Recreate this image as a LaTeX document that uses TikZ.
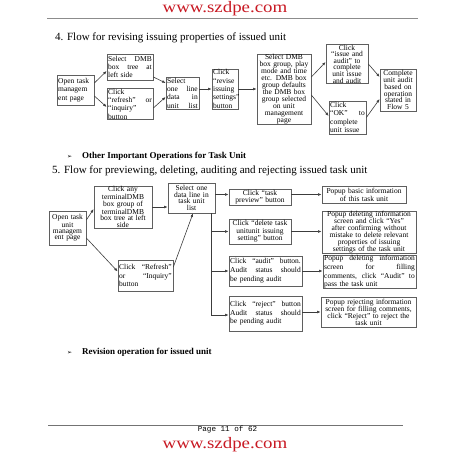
\documentclass[tikz,border=0pt]{standalone}
\usepackage{fontspec}
\usepackage{graphicx}
\setmainfont{Liberation Serif}
\newfontfamily\symfont{DejaVu Sans}
\newfontfamily\pgmono{Liberation Mono}
\usetikzlibrary{arrows.meta,calc}
\definecolor{urlred}{RGB}{200,25,35}
\definecolor{boxgray}{RGB}{95,95,95}
\definecolor{linegray}{RGB}{60,60,60}
\newcommand\J[1]{{\spaceskip=0.25em plus 1fil\xspaceskip=0.25em plus 1fil\makebox[\hsize][s]{#1}}}
\tikzset{
  box/.style={draw=boxgray, line width=0.7pt, inner xsep=1.2pt, inner ysep=0.3pt, align=center},
  sz/.code 2 args={\pgfmathsetmacro\tw{#1-2.4}\edef\tmp{\noexpand\tikzset{minimum width=#1pt,minimum height=#2pt,text width=\tw pt}}\tmp},
  ls/.style={font=\fontsize{7.5}{#1}\selectfont},
  lft/.style={align=left},
  conn/.style={draw=linegray, line width=0.6pt, -{Latex[length=3.6pt,width=2.8pt]}},
  url/.style={anchor=base, inner sep=0, text=urlred, font=\fontsize{16}{16}\selectfont},
  title/.style={anchor=base west, inner sep=0, font=\fontsize{11}{11}\selectfont},
  bul/.style={anchor=base west, inner sep=0, font=\symfont\fontsize{6}{6}\selectfont},
  bultext/.style={anchor=base west, inner sep=0, font=\bfseries\fontsize{9}{9}\selectfont},
}
\begin{document}
\begin{tikzpicture}[x=1pt,y=-1pt]
\useasboundingbox (0,0) rectangle (452,452);
% header
\node[url] (hdr) at (225,13) {\scalebox{1.18}[1]{www.szdpe.com}};
\draw[line width=1.3pt, draw=black!45] (47,18.5) -- (418,18.5);
\node[title] (t4) at (55,40.5) {4. Flow for revising issuing properties of issued unit};

% flow 4
\node[box, lft, sz={37}{30}, ls=8.5] (A) at (75.5,90) {Open task\\managem\\ent page};
\node[box, lft, sz={46}{26}, ls=8.4] (B) at (130,67) {\J{Select DMB}\\\J{box tree at}\\left side};
\node[box, lft, sz={46}{30}, ls=8.3] (C) at (130,104) {Click\\\J{“refresh” or}\\“inquiry”\\button};
\node[box, lft, sz={33}{32}, ls=8.3] (D) at (182.5,93) {Select\\\J{one line}\\\J{data in}\\\J{unit list}};
\node[box, lft, sz={26}{40}, ls=8.3, inner xsep=0.6pt] (E) at (225,89) {Click\\“revise\\issuing\\settings”\\button};
\node[box, sz={54}{69}, ls=7.0] (F) at (284,89.5) {Select DMB\\box group, play\\mode and time\\etc. DMB box\\group defaults\\the DMB box\\group selected\\on unit\\management\\page};
\node[box, sz={42}{38}, ls=6.6] (G) at (347,64) {Click\\“issue and\\audit” to\\complete\\unit issue\\and audit};
\node[box, lft, sz={37}{33}, ls=8.3] (H) at (347.5,117.5) {Click\\\J{“OK” to}\\complete\\unit issue};
\node[box, sz={36}{42}, ls=6.9] (I) at (398,90) {Complete\\unit audit\\based on\\operation\\stated in\\Flow 5};

\draw[conn] ([yshift=7pt]A.east) -- ([yshift=-4pt]B.west);
\draw[conn] ([yshift=-6pt]A.east) -- ([yshift=-3pt]C.west);
\draw[conn] ([yshift=-10pt]B.east) -- ([yshift=10pt]D.west);
\draw[conn] ([yshift=-4pt]C.east) -- ([yshift=-4pt]D.west);
\draw[conn] (E.west -| D.east) -- (E.west);
\draw[conn] (E.east) -- (E.east -| F.west);
\draw[conn] ([yshift=12.5pt]F.east) -- ([yshift=2pt]G.west);
\draw[conn] ([yshift=-5.5pt]F.east) -- ([yshift=1.5pt]H.west);
\draw[conn] (G.east) -- ([yshift=13pt]I.west);
\draw[conn] (H.east) -- ([yshift=-9pt]I.west);

% bullet 1
\node[bul] (b1) at (67,158) {➢};
\node[bultext] (b1t) at (82,158) {Other Important Operations for Task Unit};
\node[title] (t5) at (52,173.5) {5. Flow for previewing, deleting, auditing and rejecting issued task unit};

% flow 5
\node[box, sz={37}{34}, ls=6.3] (P) at (67.5,228) {Open task\\unit\\managem\\ent page};
\node[box, sz={58}{42}, ls=6.6] (Q) at (123,207) {Click any\\terminalDMB\\box group of\\terminalDMB\\box tree at left\\side};
\node[box, lft, sz={55}{31}, ls=8.7] (R) at (145.5,275.5) {\J{Click “Refresh”}\\\J{or “Inquiry”}\\button};
\node[box, sz={47}{30}, ls=6.7] (S) at (191.5,198) {Select one\\data line in\\task unit\\list};
\node[box, sz={62}{16}, ls=6.7] (T1) at (260,197) {Click “task\\preview” button};
\node[box, sz={62}{25}, ls=7.3] (T2) at (260,231.5) {Click “delete task\\unitunit issuing\\setting” button};
\node[box, lft, sz={73}{30}, ls=9] (T3) at (265.5,271) {\J{Click “audit” button.}\\\J{Audit status should}\\be pending audit};
\node[box, lft, sz={73}{35}, ls=8.7] (T4) at (265.5,313.5) {\J{Click “reject” button}\\\J{Audit status should}\\be pending audit};
\node[box, sz={84}{17}, ls=6.7] (U1) at (364,194.5) {Popup basic information\\of this task unit};
\node[box, sz={94}{40}, ls=6.9] (U2) at (369,232) {Popup deleting information\\screen and click “Yes”\\after confirming without\\mistake to delete relevant\\properties of issuing\\settings of the task unit};
\node[box, lft, sz={93}{32}, ls=8.6] (U3) at (369.5,272) {\J{Popup deleting information}\\\J{screen for filling}\\\J{comments, click “Audit” to}\\pass the task unit};
\node[box, sz={95}{30}, ls=7] (U4) at (368.5,312) {Popup rejecting information\\screen for filling comments,\\click “Reject” to reject the\\task unit};

\draw[conn] ([yshift=8pt]P.east) -- ([yshift=-2pt]Q.west);
\draw[conn] ([yshift=-10pt]P.east) -- ([yshift=4pt]R.west);
\draw[conn] (Q.east) -- (Q.east -| S.west);
\draw[conn] ([yshift=8.5pt]R.east) -- ([xshift=1.5pt]S.south);
\draw[conn] (S.east |- U1.west) -- (T1.west |- U1.west);
\coordinate (tk) at ([xshift=-4pt]S.south east);
\draw[conn] (tk) |- ([yshift=-1.5pt]T4.west);
\draw[conn] (tk |- T2.west) -- (T2.west);
\draw[conn] (tk |- T3.west) -- (T3.west);
\draw[conn] (T1.east |- U1.west) -- (U1.west);
\draw[conn] (T2.east) -- (T2.east -| U2.west);
\draw[conn] (T3.east) -- (T3.east -| U3.west);
\draw[conn] (T4.east |- U4.west) -- (U4.west);

% bullet 2
\node[bul] (b2) at (67,354) {➢};
\node[bultext] (b2t) at (82,354) {Revision operation for issued unit};

% footer
\draw[line width=0.6pt, draw=black!55] (48,425.7) -- (403,425.7);
\node[anchor=base, inner sep=0, font=\pgmono\fontsize{7.6}{7.6}\selectfont] (pg) at (227.5,431.5) {Page 11 of 62};
\node[url] (ftr) at (225,448) {\scalebox{1.18}[1]{www.szdpe.com}};
\end{tikzpicture}
\end{document}
